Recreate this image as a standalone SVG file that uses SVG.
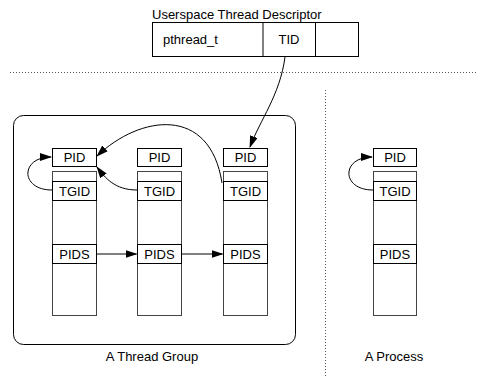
<svg xmlns="http://www.w3.org/2000/svg" width="477" height="377" viewBox="0 0 477 377">
<style>
text{font-family:"Liberation Sans",Arial,sans-serif;font-size:13px;fill:#000}
.c{text-anchor:middle}
.b{fill:#fff;stroke:#000;stroke-width:1}
.s{fill:#fff;stroke:#444;stroke-width:1}
.d{fill:none;stroke:#555;stroke-width:1;stroke-dasharray:1 2}
.e{fill:none;stroke:#000;stroke-width:1}
</style>
<defs>
<marker id="ah" markerWidth="12" markerHeight="8" refX="11" refY="4" orient="auto" markerUnits="userSpaceOnUse">
<path d="M0,0 L12,4 L0,8 z" fill="#000"/>
</marker>
</defs>
<rect width="477" height="377" fill="#fff"/>
<g id="descriptor">
<text x="152" y="19">Userspace Thread Descriptor</text>
<rect class="b" x="152.5" y="22.5" width="206" height="34"/>
<line class="e" x1="263" y1="22.5" x2="263" y2="56.5"/>
<line class="e" x1="315.5" y1="22.5" x2="315.5" y2="56.5"/>
<text x="163" y="44">pthread_t</text>
<text class="c" x="289" y="44">TID</text>
</g>
<g id="separators">
<line class="d" x1="10" y1="72.5" x2="477" y2="72.5"/>
<line class="d" x1="325.5" y1="90" x2="325.5" y2="377"/>
</g>
<g id="thread-group">
<rect class="e" x="13.5" y="115.5" width="282" height="229" rx="10"/>
<text class="c" x="152" y="361">A Thread Group</text>
</g>
<g id="thread1">
<rect class="b" x="52.5" y="148.5" width="44" height="18"/>
<text class="c" x="74.5" y="162">PID</text>
<rect class="s" x="52.5" y="171.5" width="44" height="144"/>
<rect class="b" x="52.5" y="181.5" width="44" height="19"/>
<text class="c" x="74.5" y="196">TGID</text>
<rect class="b" x="52.5" y="244.5" width="44" height="19"/>
<text class="c" x="74.5" y="259">PIDS</text>
</g>
<g id="thread2">
<rect class="b" x="137.5" y="148.5" width="44" height="18"/>
<text class="c" x="159.5" y="162">PID</text>
<rect class="s" x="137.5" y="171.5" width="44" height="144"/>
<rect class="b" x="137.5" y="181.5" width="44" height="19"/>
<text class="c" x="159.5" y="196">TGID</text>
<rect class="b" x="137.5" y="244.5" width="44" height="19"/>
<text class="c" x="159.5" y="259">PIDS</text>
</g>
<g id="thread3">
<rect class="b" x="223.5" y="148.5" width="44" height="18"/>
<text class="c" x="245.5" y="162">PID</text>
<rect class="s" x="223.5" y="171.5" width="44" height="144"/>
<rect class="b" x="223.5" y="181.5" width="44" height="19"/>
<text class="c" x="245.5" y="196">TGID</text>
<rect class="b" x="223.5" y="244.5" width="44" height="19"/>
<text class="c" x="245.5" y="259">PIDS</text>
</g>
<g id="process">
<rect class="b" x="373.5" y="148.5" width="43" height="18"/>
<text class="c" x="395" y="162">PID</text>
<rect class="s" x="373.5" y="171.5" width="43" height="144"/>
<rect class="b" x="373.5" y="181.5" width="43" height="19"/>
<text class="c" x="395" y="196">TGID</text>
<rect class="b" x="373.5" y="244.5" width="43" height="19"/>
<text class="c" x="395" y="259">PIDS</text>
<text class="c" x="394" y="361">A Process</text>
</g>
<g id="connectors">
<path class="e" d="M285,57 C280,95 260,120 250,147" marker-end="url(#ah)"/>
<path class="e" d="M52,190 C20,190 20,157 51,157" marker-end="url(#ah)"/>
<path class="e" d="M373,190 C341,190 341,157 372,157" marker-end="url(#ah)"/>
<path class="e" d="M137,190 C115,190 105,178 97,167" marker-end="url(#ah)"/>
<path class="e" d="M222,183 C210,105 140,115 97,156" marker-end="url(#ah)"/>
<line class="e" x1="96.5" y1="254" x2="136.5" y2="254" marker-end="url(#ah)"/>
<line class="e" x1="181.5" y1="254" x2="222.5" y2="254" marker-end="url(#ah)"/>
</g>
</svg>
